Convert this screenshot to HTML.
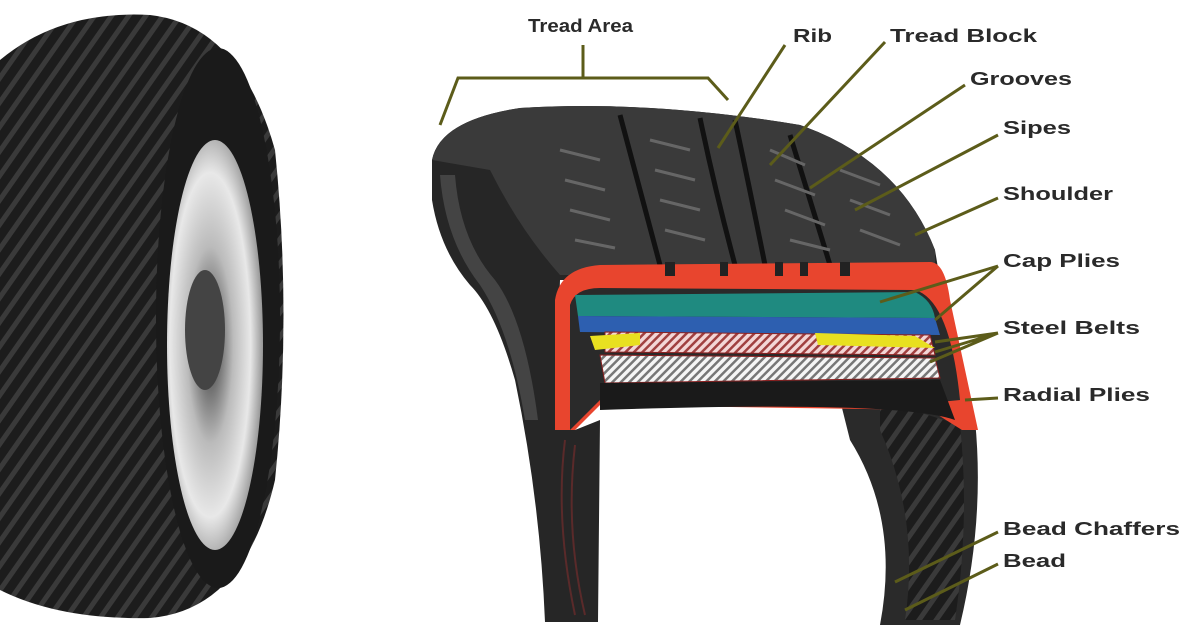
<!DOCTYPE html>
<html><head><style>
html,body{margin:0;padding:0;background:#fff;width:1200px;height:630px;overflow:hidden}
svg text{font-family:"Liberation Sans",sans-serif;font-weight:bold;font-size:18px;fill:#2a2a2a}
</style></head><body>
<svg width="1200" height="630" viewBox="0 0 1200 630" xmlns="http://www.w3.org/2000/svg">
<defs>
<pattern id="tread" width="14" height="14" patternUnits="userSpaceOnUse" patternTransform="rotate(35)">
<rect width="14" height="14" fill="#1c1c1c"/><rect width="5" height="14" fill="#3a3a3a"/></pattern>
<pattern id="pink" width="6" height="6" patternUnits="userSpaceOnUse" patternTransform="rotate(45)">
<rect width="6" height="6" fill="#f3d6d6"/><rect width="2.5" height="6" fill="#a04040"/></pattern>
<pattern id="white" width="6" height="6" patternUnits="userSpaceOnUse" patternTransform="rotate(45)">
<rect width="6" height="6" fill="#f5f5f5"/><rect width="2.5" height="6" fill="#777"/></pattern>
<radialGradient id="rim" cx="0.45" cy="0.5" r="0.6"><stop offset="0" stop-color="#333"/><stop offset="0.4" stop-color="#bbb"/><stop offset="0.7" stop-color="#e8e8e8"/><stop offset="1" stop-color="#777"/></radialGradient>
</defs>
<!-- left tire -->
<path d="M0,60 Q60,10 150,15 Q240,25 275,150 Q292,315 275,480 Q245,610 150,618 Q60,620 0,590 Z" fill="url(#tread)"/>
<ellipse cx="218" cy="318" rx="62" ry="270" fill="#1a1a1a"/>
<ellipse cx="215" cy="345" rx="48" ry="205" fill="url(#rim)"/>
<ellipse cx="205" cy="330" rx="20" ry="60" fill="#444"/>
<!-- right tire sidewall + tread -->
<path d="M432,160 Q440,120 520,108 Q650,100 800,125 Q900,160 935,250 L940,280 L560,280 L555,430 L575,430 L600,420 L598,622 L545,622 Q540,500 515,380 Q495,310 470,285 Q440,250 432,200 Z" fill="#262626"/>
<path d="M440,175 Q445,240 480,285 Q510,330 525,420 L538,420 Q525,320 495,280 Q460,240 455,175 Z" fill="#444"/>
<path d="M432,160 Q440,120 520,108 Q650,100 800,125 Q900,160 935,250 L935,275 L560,275 Q520,230 490,170 Z" fill="#3a3a3a"/>
<g stroke="#111" stroke-width="5" fill="none">
<path d="M700,118 Q715,190 735,265"/><path d="M735,120 Q750,190 765,265"/>
<path d="M790,135 Q810,200 830,265"/><path d="M620,115 Q640,190 660,265"/>
</g>
<g stroke="#666" stroke-width="3">
<path d="M560,150 L600,160 M565,180 L605,190 M570,210 L610,220 M575,240 L615,248"/>
<path d="M650,140 L690,150 M655,170 L695,180 M660,200 L700,210 M665,230 L705,240"/>
<path d="M770,150 L805,165 M775,180 L815,195 M785,210 L825,225 M790,240 L830,250"/>
<path d="M840,170 L880,185 M850,200 L890,215 M860,230 L900,245"/>
</g>
<g stroke="#5a2a2a" stroke-width="2" fill="none">
<path d="M565,440 Q555,520 575,615"/><path d="M575,445 Q565,530 585,615"/>
</g>
<!-- right legs -->
<path d="M840,400 Q900,380 975,420 Q985,520 960,625 L880,625 Q900,520 850,440 Z" fill="#2a2a2a"/>
<path d="M880,400 L960,425 Q970,520 955,620 L905,620 Q920,520 880,430 Z" fill="url(#tread)"/>
<!-- red section -->
<path d="M555,300 Q560,268 600,265 L930,262 Q945,262 950,300 L978,430 L962,430 L930,410 L600,405 L575,430 L555,430 Z" fill="#e8452e"/>
<rect x="665" y="262" width="10" height="14" fill="#222"/><rect x="720" y="262" width="8" height="14" fill="#222"/>
<rect x="775" y="262" width="8" height="14" fill="#222"/><rect x="800" y="262" width="8" height="14" fill="#222"/><rect x="840" y="262" width="10" height="14" fill="#222"/>
<path d="M570,305 Q575,288 600,288 L915,290 Q950,300 960,400 L940,402 L600,400 L570,430 Z" fill="#2a2a2a"/>
<path d="M575,295 L915,292 Q932,300 935,318 L578,316 Z" fill="#1f8a80"/>
<path d="M578,316 L935,318 L940,335 L580,332 Z" fill="#2d5fb0"/>
<path d="M605,332 L930,335 L935,355 L605,352 Z" fill="url(#pink)" stroke="#8a2020"/>
<path d="M590,336 L640,333 L640,345 L595,350 Z" fill="#e8e020"/>
<path d="M815,333 L915,336 L935,348 L818,345 Z" fill="#e8e020"/>
<path d="M600,355 L935,358 L940,378 L605,383 Z" fill="url(#white)" stroke="#8a2020"/>
<path d="M600,383 L940,380 L955,420 Q900,400 600,410 Z" fill="#1a1a1a"/>
<!-- leaders -->
<g stroke="#5c5c1a" stroke-width="3" fill="none">
<path d="M440,125 L458,78 L708,78 L728,100"/><path d="M583,45 L583,78"/>
<path d="M785,45 L718,148"/><path d="M885,42 L770,165"/><path d="M965,85 L810,188"/>
<path d="M998,135 L855,210"/><path d="M998,198 L915,235"/>
<path d="M998,266 L880,302 M998,266 L935,320"/>
<path d="M998,333 L935,342 M998,333 L935,352 M998,333 L930,362"/>
<path d="M998,398 L965,400"/><path d="M998,532 L895,582"/><path d="M998,564 L905,610"/>
</g>
<text x="528" y="32" textLength="105" lengthAdjust="spacingAndGlyphs">Tread Area</text>
<text x="793" y="42" textLength="39" lengthAdjust="spacingAndGlyphs">Rib</text>
<text x="890" y="42" textLength="147" lengthAdjust="spacingAndGlyphs">Tread Block</text>
<text x="970" y="85" textLength="102" lengthAdjust="spacingAndGlyphs">Grooves</text>
<text x="1003" y="134" textLength="68" lengthAdjust="spacingAndGlyphs">Sipes</text>
<text x="1003" y="200" textLength="110" lengthAdjust="spacingAndGlyphs">Shoulder</text>
<text x="1003" y="267" textLength="117" lengthAdjust="spacingAndGlyphs">Cap Plies</text>
<text x="1003" y="334" textLength="137" lengthAdjust="spacingAndGlyphs">Steel Belts</text>
<text x="1003" y="401" textLength="147" lengthAdjust="spacingAndGlyphs">Radial Plies</text>
<text x="1003" y="535" textLength="177" lengthAdjust="spacingAndGlyphs">Bead Chaffers</text>
<text x="1003" y="567" textLength="63" lengthAdjust="spacingAndGlyphs">Bead</text>
</svg>
</body></html>
